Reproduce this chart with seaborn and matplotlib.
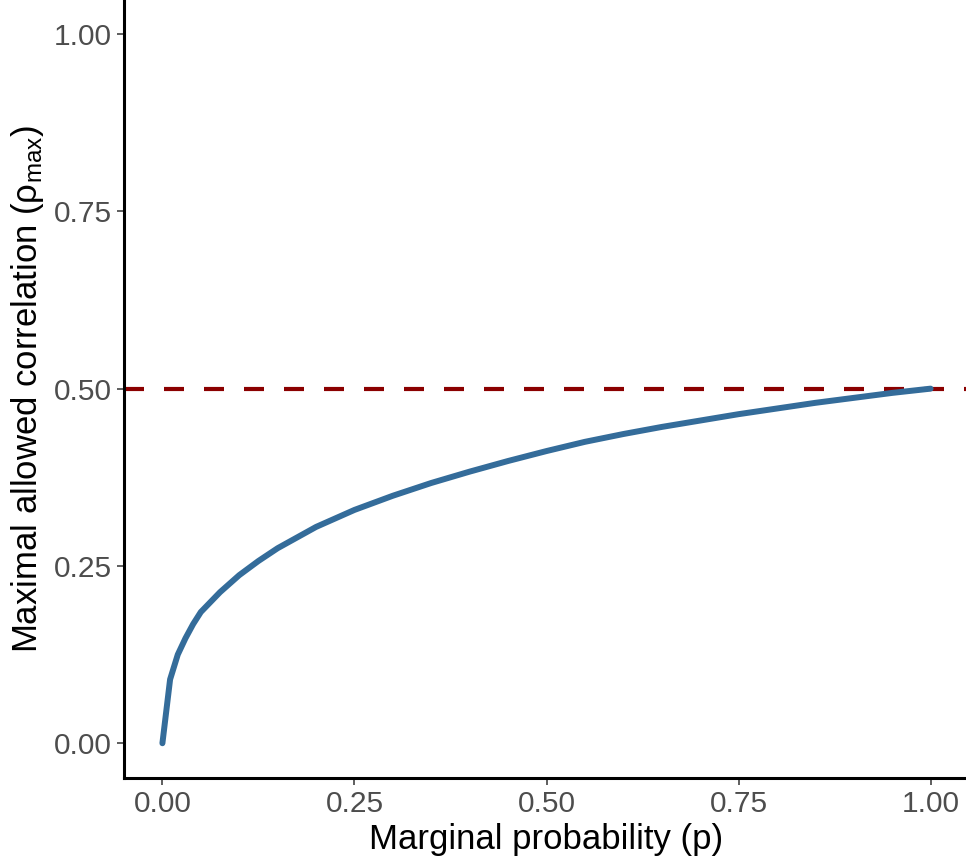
import matplotlib
matplotlib.use("Agg")
import matplotlib.pyplot as plt
import seaborn as sns
import pandas as pd

sns.set_theme(style="ticks")
plt.rcParams["font.family"] = ["Liberation Sans", "DejaVu Sans"]
plt.rcParams["mathtext.fontset"] = "custom"
plt.rcParams["mathtext.rm"] = "Liberation Sans"
plt.rcParams["mathtext.it"] = "Liberation Sans:italic"

# values
p_vals = [0, 0.01, 0.02, 0.03, 0.04, 0.05, 0.075, 0.1, 0.125, 0.15, 0.2, 0.25, 0.3,
          0.35, 0.4, 0.45, 0.5, 0.55, 0.6, 0.65, 0.7, 0.75, 0.8, 0.85, 0.9, 0.95, 1.0]
rho_max = [0, 0.09, 0.125, 0.148, 0.168, 0.185, 0.213, 0.237, 0.257, 0.275, 0.305,
           0.329, 0.349, 0.367, 0.383, 0.398, 0.412, 0.425, 0.436, 0.446, 0.455,
           0.464, 0.472, 0.48, 0.487, 0.494, 0.5]
ref_level = 0.5
ticks = [0.00, 0.25, 0.50, 0.75, 1.00]

df = pd.DataFrame({"p": p_vals, "rho": rho_max})

fig = plt.figure(figsize=(9.66, 8.65), dpi=100)
ax = fig.add_axes([124 / 966, 87 / 865, (969 - 124) / 966, 778 / 865])

ax.axhline(ref_level, color="#8B0000", lw=3, ls=(0, (4.8, 4.8)), zorder=1)
sns.lineplot(data=df, x="p", y="rho", color="#346C9A", lw=4.3, ax=ax, zorder=2)

ax.set_xlim(-0.05, 1.05)
ax.set_ylim(-0.049, 1.048)
ax.set_xticks(ticks)
ax.set_yticks(ticks)
ax.set_xticklabels([f"{t:.2f}" for t in ticks])
ax.set_yticklabels([f"{t:.2f}" for t in ticks])

for s in ["top", "right"]:
    ax.spines[s].set_visible(False)
for s in ["left", "bottom"]:
    ax.spines[s].set_linewidth(2.2)
    ax.spines[s].set_color("black")

ax.tick_params(axis="both", length=5, width=1.1, color="#333333",
               labelsize=21.5, labelcolor="#4D4D4D", pad=3.5)

ax.set_xlabel("Marginal probability (p)", fontsize=25, color="black", labelpad=4)
ax.set_ylabel(r"Maximal allowed correlation (ρ$_{\mathrm{max}}$)", fontsize=25,
              color="black", labelpad=6)

fig.savefig("out.png", dpi=100)
